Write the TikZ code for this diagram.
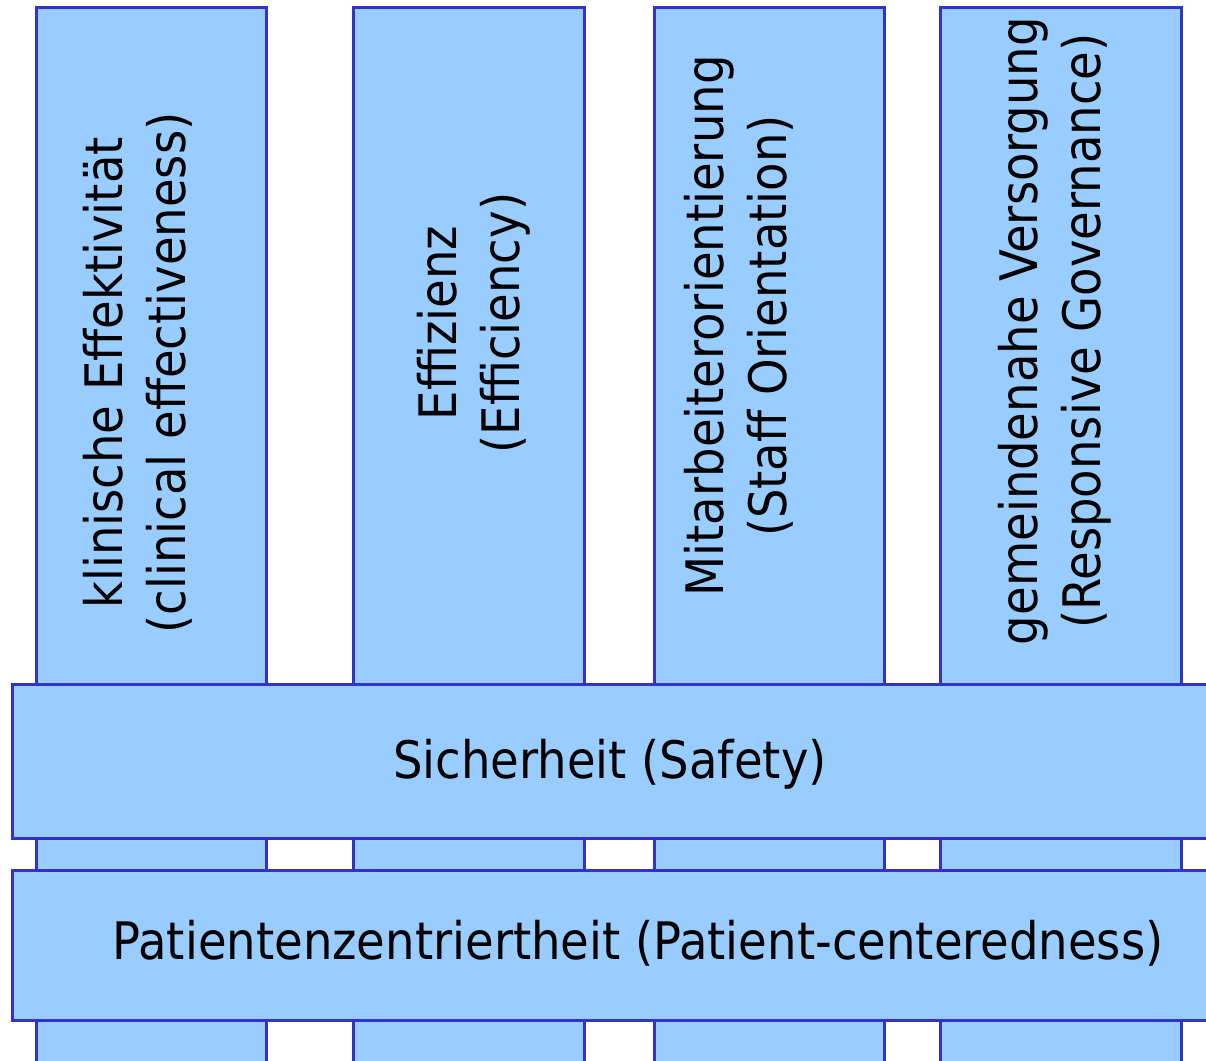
\documentclass[tikz,border=0pt]{standalone}
\usepackage{fontspec}
\setmainfont{DejaVu Sans Condensed}
\usepackage{tikz}
\usetikzlibrary{positioning}
\definecolor{pillarfill}{HTML}{99CCFF}
\definecolor{pillarline}{HTML}{3333CC}
\tikzset{
  slab/.style = {draw=pillarline, fill=pillarfill, line width=3pt},
  lbl/.style  = {font=\fontsize{51.7}{63}\selectfont, align=center, inner sep=0pt, text=black},
}
\begin{document}
\begin{tikzpicture}[x=1pt, y=-1pt]
  \useasboundingbox (0,0) rectangle (1206,1060);
  \clip (0,0) rectangle (1206,1060);
  % pillars
  \foreach \l/\r in {36/266, 353/584, 654/884, 940/1181}
    \draw[slab] (\l,7) rectangle (\r,1090);
  % cross bands
  \draw[slab] (12,684) rectangle (1240,838);
  \draw[slab] (12,870) rectangle (1240,1020);

  \node[lbl, rotate=90] (klin) at (138,373) {klinische Effektivität\\(clinical effectiveness)};
  \node[lbl, rotate=90] (effi) at (474,323) {Effizienz\\(Efficiency)};
  \node[lbl, rotate=90] (staff) at (739,326) {Mitarbeiterorientierung\\(Staff Orientation)};
  \node[lbl, rotate=90] (gov) at (1055,331) {gemeindenahe Versorgung\\(Responsive Governance)};
  \node[lbl] (safe) at (610,764) {Sicherheit (Safety)};
  \node[lbl] (pat) at (638,943) {Patientenzentriertheit (Patient-centeredness)};
\end{tikzpicture}
\end{document}
